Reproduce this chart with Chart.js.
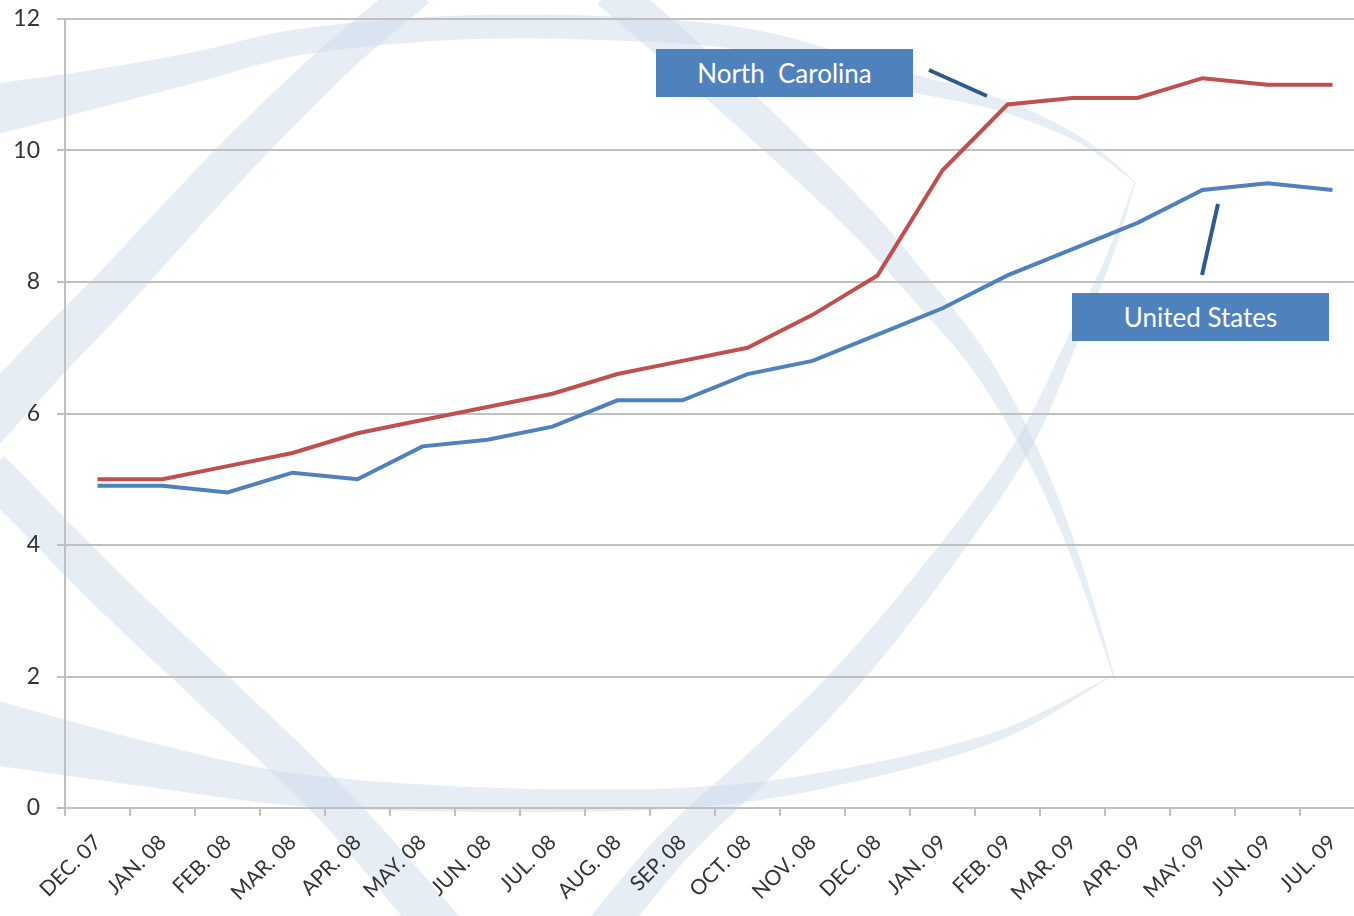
<!DOCTYPE html>
<html>
<head>
<meta charset="utf-8">
<title>Unemployment rate: North Carolina vs United States</title>
<script src="https://cdn.jsdelivr.net/npm/chart.js@4.4.1/dist/chart.umd.min.js"></script>
<style>
  html, body { margin: 0; padding: 0; background: #fff; overflow: hidden; }
  #wrap { position: relative; width: 1380px; height: 916px; }
  .tag {
    position: absolute; width: 257px; height: 48px; line-height: 48px;
    background: #4F81BD; color: #fff; text-align: center;
    font-family: Lato, "Open Sans", sans-serif; font-size: 26px;
  }
</style>
</head>
<body>
<div id="wrap">
  <canvas id="chart" width="1380" height="916"></canvas>
  <div class="tag" style="left:656px; top:49px;">North&nbsp; Carolina</div>
  <div class="tag" style="left:1072px; top:293px;">United States</div>
</div>
<script>
// Chart data
const months = ['DEC. 07', 'JAN. 08', 'FEB. 08', 'MAR. 08', 'APR. 08', 'MAY. 08', 'JUN. 08',
  'JUL. 08', 'AUG. 08', 'SEP. 08', 'OCT. 08', 'NOV. 08', 'DEC. 08', 'JAN. 09', 'FEB. 09',
  'MAR. 09', 'APR. 09', 'MAY. 09', 'JUN. 09', 'JUL. 09'];
const northCarolina = [5.0, 5.0, 5.2, 5.4, 5.7, 5.9, 6.1, 6.3, 6.6, 6.8, 7.0, 7.5, 8.1, 9.7, 10.7, 10.8, 10.8, 11.1, 11.0, 11.0];
const unitedStates = [4.9, 4.9, 4.8, 5.1, 5.0, 5.5, 5.6, 5.8, 6.2, 6.2, 6.6, 6.8, 7.2, 7.6, 8.1, 8.5, 8.9, 9.4, 9.5, 9.4];
const yMin = 0;
const yMax = 12;
const yStep = 2;

// Light watermark swooshes behind the chart: centre line points [x, y, width]
const swooshes = [
  [[-20,112,52],[100,88,38],[200,66,30],[300,42,26],[450,28,24],[600,28,24],[750,40,22],[900,80,18],[1000,105,12],[1080,140,6],[1135,182,1]],
  [[418,-10,34],[335,60,36],[243,150,40],[168,230,42],[108,295,44],[45,360,46],[-20,430,48]],
  [[-10,470,40],[108,590,40],[217,693,40],[335,807,40],[430,916,44],[450,940,44]],
  [[-20,730,66],[150,765,44],[300,790,32],[500,800,24],[700,797,20],[850,775,15],[1000,735,9],[1110,677,1]],
  [[600,935,38],[674,846,36],[761,764,33],[847,677,29],[934,571,24],[1021,449,17],[1073,339,11],[1110,255,6],[1135,182,1]],
  [[610,-10,38],[690,60,37],[770,133,34],[860,220,30],[930,300,25],[985,370,20],[1040,470,13],[1080,570,7],[1115,680,1]]
];

function catmull(a, b, c, d, t) {
  const t2 = t * t, t3 = t2 * t;
  return 0.5 * ((2 * b) + (-a + c) * t + (2 * a - 5 * b + 4 * c - d) * t2 + (-a + 3 * b - 3 * c + d) * t3);
}

function drawSwoosh(ctx, pts) {
  const samples = [];
  for (let i = 0; i < pts.length - 1; i++) {
    const p0 = pts[Math.max(i - 1, 0)], p1 = pts[i], p2 = pts[i + 1], p3 = pts[Math.min(i + 2, pts.length - 1)];
    for (let s = 0; s < 12; s++) {
      const t = s / 12;
      samples.push([0, 1, 2].map(k => catmull(p0[k], p1[k], p2[k], p3[k], t)));
    }
  }
  samples.push(pts[pts.length - 1]);
  const left = [], right = [];
  samples.forEach((p, i) => {
    const a = samples[Math.max(i - 1, 0)], b = samples[Math.min(i + 1, samples.length - 1)];
    const dx = b[0] - a[0], dy = b[1] - a[1];
    const len = Math.hypot(dx, dy) || 1;
    const nx = -dy / len, ny = dx / len, h = p[2] / 2;
    left.push([p[0] + nx * h, p[1] + ny * h]);
    right.push([p[0] - nx * h, p[1] - ny * h]);
  });
  ctx.beginPath();
  ctx.moveTo(left[0][0], left[0][1]);
  left.forEach(p => ctx.lineTo(p[0], p[1]));
  right.reverse().forEach(p => ctx.lineTo(p[0], p[1]));
  ctx.closePath();
  ctx.fill();
}

const watermark = {
  id: 'watermark',
  beforeDraw(chart) {
    const ctx = chart.ctx;
    ctx.save();
    ctx.fillStyle = 'rgba(205,220,235,0.5)';
    swooshes.forEach(s => drawSwoosh(ctx, s));
    ctx.restore();
  }
};

// Short connector strokes from the labels to the lines
const connectors = {
  id: 'connectors',
  afterDraw(chart) {
    const ctx = chart.ctx;
    ctx.save();
    ctx.strokeStyle = '#2F5A8C';
    ctx.lineWidth = 4;
    ctx.beginPath();
    ctx.moveTo(929, 70); ctx.lineTo(987, 96);
    ctx.moveTo(1218, 204); ctx.lineTo(1202, 275);
    ctx.stroke();
    ctx.restore();
  }
};

const tickFont = { family: 'Lato, "Open Sans", sans-serif', size: 21 };

new Chart(document.getElementById('chart'), {
  type: 'line',
  data: {
    labels: months,
    datasets: [
      { label: 'North Carolina', data: northCarolina, borderColor: '#C0504D', borderWidth: 4, pointRadius: 0, tension: 0, fill: false },
      { label: 'United States', data: unitedStates, borderColor: '#4F81BD', borderWidth: 4, pointRadius: 0, tension: 0, fill: false }
    ]
  },
  options: {
    responsive: false,
    animation: false,
    layout: { padding: { top: 19, right: 15, left: 0, bottom: 0 } },
    plugins: { legend: { display: false }, tooltip: { enabled: false } },
    scales: {
      x: {
        offset: true,
        grid: { drawOnChartArea: false, drawTicks: true, tickLength: 8, color: '#BFBFBF', lineWidth: 2, offset: true },
        border: { color: '#BFBFBF', width: 2 },
        ticks: { minRotation: 45, maxRotation: 45, autoSkip: false, font: tickFont, color: '#333333', padding: 14 },
        afterFit: s => { s.height = 108; }
      },
      y: {
        min: yMin,
        max: yMax,
        ticks: { stepSize: yStep, font: { family: 'Lato, "Open Sans", sans-serif', size: 23 }, color: '#333333', padding: 17 },
        grid: { color: '#C0C0C0', lineWidth: 2, tickLength: 8 },
        border: { color: '#BFBFBF', width: 2 },
        afterFit: s => { s.width = 65; s.paddingTop = 0; s.paddingBottom = 0; }
      }
    }
  },
  plugins: [watermark, connectors]
});
</script>
</body>
</html>
